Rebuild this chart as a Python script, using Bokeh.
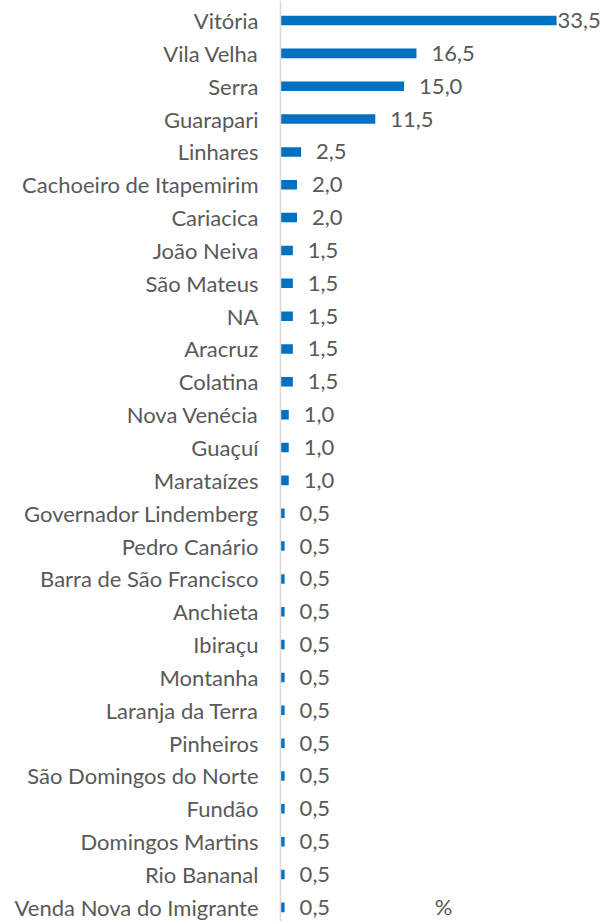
from bokeh.plotting import figure
from bokeh.models import ColumnDataSource, Range1d, FixedTicker
from bokeh.core.properties import value
from bokeh.embed import file_html
from bokeh.resources import INLINE

cities = ["Vitória", "Vila Velha", "Serra", "Guarapari", "Linhares",
          "Cachoeiro de Itapemirim", "Cariacica", "João Neiva", "São Mateus", "NA",
          "Aracruz", "Colatina", "Nova Venécia", "Guaçuí", "Marataízes",
          "Governador Lindemberg", "Pedro Canário", "Barra de São Francisco",
          "Anchieta", "Ibiraçu", "Montanha", "Laranja da Terra", "Pinheiros",
          "São Domingos do Norte", "Fundão", "Domingos Martins", "Rio Bananal",
          "Venda Nova do Imigrante"]
values = [33.5, 16.5, 15.0, 11.5, 2.5, 2.0, 2.0, 1.5, 1.5, 1.5, 1.5, 1.5,
          1.0, 1.0, 1.0, 0.5, 0.5, 0.5, 0.5, 0.5, 0.5, 0.5, 0.5, 0.5, 0.5,
          0.5, 0.5, 0.5]
axis_title = "%"

FONT = "Lato"
FS = "22px"
GRAY = "#595959"
BLUE = "#0070C0"

n = len(cities)
idx = list(range(n))
vmax = max(values)
labels = [f"{v:.1f}".replace(".", ",") for v in values]
offsets = [1 if v == vmax else 15 for v in values]

src = ColumnDataSource(dict(y=idx, v=values, lab=labels, off=offsets))

x_end = 39.56
p = figure(width=606, height=921, output_backend="svg", toolbar_location=None,
           x_range=Range1d(0, x_end), y_range=Range1d(n - 1 + 0.43, -0.61),
           min_border_left=280, min_border_right=0, min_border_top=0,
           min_border_bottom=0)
p.outline_line_color = None
p.xgrid.visible = False
p.ygrid.visible = False
p.xaxis.visible = False

p.hbar(y="y", left=0, right="v", height=0.29, source=src,
       fill_color=BLUE, line_color=None)
p.text(x="v", y="y", text="lab", x_offset="off", source=src,
       text_font=value(FONT), text_font_size=FS, text_color=GRAY,
       text_align="left", text_baseline="middle")
p.text(x=[x_end / 2], y=[n - 1], text=[axis_title], y_offset=-1,
       text_font=value(FONT), text_font_size=FS, text_color=GRAY,
       text_align="center", text_baseline="middle")

ya = p.yaxis[0]
ya.ticker = FixedTicker(ticks=idx)
ya.major_label_overrides = {i: c for i, c in enumerate(cities)}
ya.major_tick_line_color = None
ya.minor_tick_line_color = None
ya.major_tick_out = 0
ya.major_tick_in = 0
ya.minor_tick_out = 0
ya.axis_line_color = "#D9D9D9"
ya.axis_line_width = 1.5
ya.major_label_standoff = 22
ya.major_label_text_font = FONT
ya.major_label_text_font_size = FS
ya.major_label_text_color = GRAY

open("out.html", "w").write(file_html(p, INLINE))
